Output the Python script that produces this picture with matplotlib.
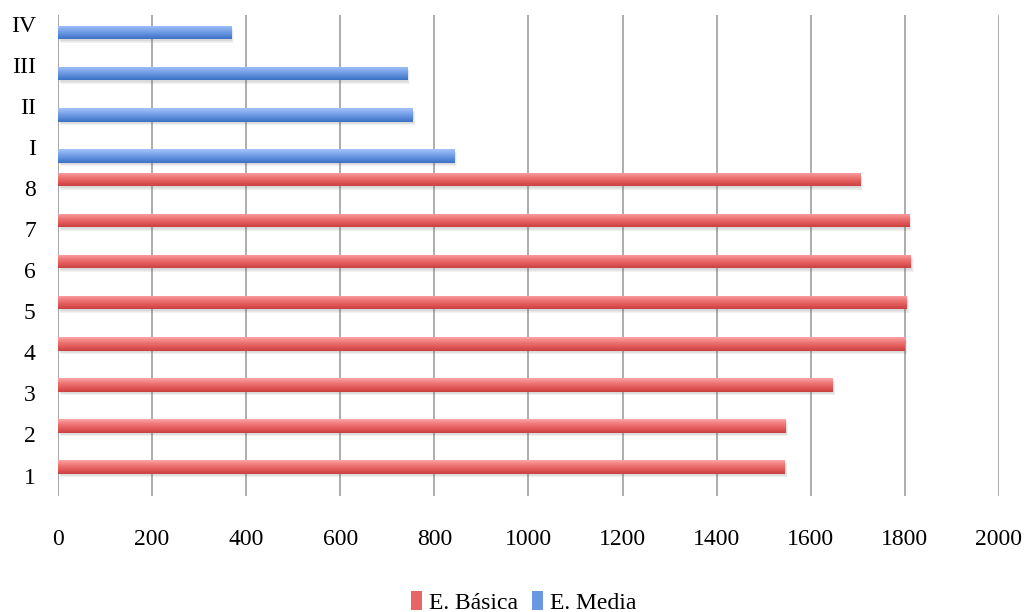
import numpy as np
import matplotlib.pyplot as plt
from matplotlib.colors import LinearSegmentedColormap

# Enrolment per grade: basic education (1-8) and secondary (I-IV)
categories = ['1', '2', '3', '4', '5', '6', '7', '8', 'I', 'II', 'III', 'IV']
basica = [1545, 1547, 1646, 1800, 1804, 1813, 1809, 1705, 0, 0, 0, 0]
media = [0, 0, 0, 0, 0, 0, 0, 0, 842, 754, 742, 368]
series_names = ['E. Básica', 'E. Media']
x_ticks = list(range(0, 2001, 200))

plt.rcParams['font.family'] = ['Liberation Serif', 'DejaVu Serif']

red_map = LinearSegmentedColormap.from_list('red_grad', ['#fca6a6', '#f07a7a', '#e25a5a', '#c94141'])
blue_map = LinearSegmentedColormap.from_list('blue_grad', ['#a4c4fa', '#80a8ec', '#5d8ddb', '#3c72c4'])

fig, ax = plt.subplots(figsize=(10.27, 6.12), dpi=100)
fig.subplots_adjust(left=0.0565, right=0.9727, top=0.9755, bottom=0.1895)

pos = np.arange(len(categories))
bar_h = 0.33
offset = 0.21
grad = np.linspace(0, 1, 64).reshape(-1, 1)


def gradient_bars(y, vals, cmap, label):
    # soft drop shadow under each bar
    for k in range(5):
        ax.barh(y - 0.035 - 0.014 * k, vals, left=1.5 + 1.0 * k, height=bar_h,
                color='#707070', alpha=0.055, linewidth=0, zorder=2)
    bars = ax.barh(y, vals, height=bar_h, color=cmap(0.55), linewidth=0,
                   label=label, zorder=3)
    for b in bars:
        w = b.get_width()
        if w <= 0:
            continue
        x0, y0, hh = b.get_x(), b.get_y(), b.get_height()
        im = ax.imshow(grad, cmap=cmap, aspect='auto', origin='upper',
                       extent=(x0, x0 + w, y0, y0 + hh), zorder=4)
        im.set_clip_path(b)
    return bars


gradient_bars(pos + offset, basica, red_map, series_names[0])
gradient_bars(pos - offset, media, blue_map, series_names[1])

ax.set_xlim(0, 2000)
ax.set_ylim(-0.5, 11.22)
ax.set_xticks(x_ticks)
ax.set_xticklabels([str(t) for t in x_ticks], fontsize=17)
ax.set_yticks(pos)
ax.set_yticklabels(categories, fontsize=17)
ax.tick_params(axis='x', length=0, pad=24)
ax.tick_params(axis='y', length=0, pad=16)

ax.grid(axis='x', color='#a6a6a6', linewidth=1.3, zorder=0)
ax.set_axisbelow(True)
for s in ax.spines.values():
    s.set_visible(False)
ax.axvline(0, color='#a6a6a6', linewidth=1.3, zorder=1)

fig.legend(loc='center', bbox_to_anchor=(0.51, 0.016), ncol=2, frameon=False,
           fontsize=17, handlelength=0.45, handleheight=0.9, handletextpad=0.3,
           columnspacing=0.6)

fig.savefig('out.png', dpi=100)
